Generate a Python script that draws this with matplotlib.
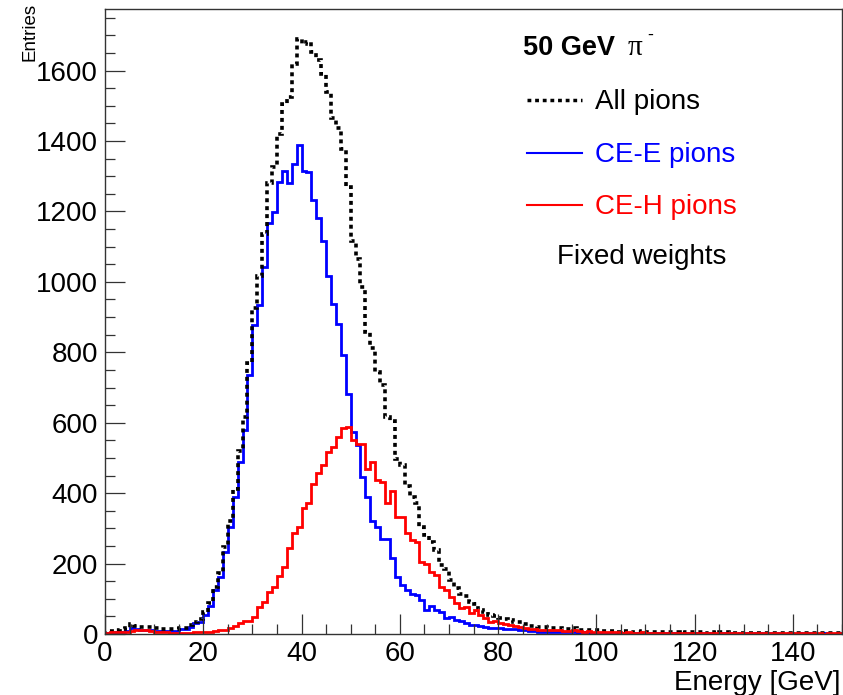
import numpy as np
import matplotlib
matplotlib.use("Agg")
import matplotlib.pyplot as plt
from matplotlib.lines import Line2D
from matplotlib.ticker import MultipleLocator

plt.rcParams['font.family'] = ['Liberation Sans', 'DejaVu Sans']

# 1 GeV bins from 0 to 150
bin_edges = np.arange(0, 151, 1)

ce_e_pions = [
    4, 4, 5, 7, 9, 16, 13, 11, 11, 11,
    9, 8, 8, 9, 9, 13, 13, 21, 30, 35,
    54, 80, 125, 162, 234, 305, 390, 489, 579, 735,
    877, 933, 1042, 1167, 1198, 1283, 1314, 1280, 1335, 1389,
    1314, 1311, 1233, 1181, 1115, 1018, 938, 881, 791, 683,
    574, 536, 446, 390, 320, 305, 271, 271, 215, 163,
    139, 125, 113, 111, 96, 68, 79, 68, 63, 45,
    49, 40, 38, 32, 26, 26, 22, 20, 18, 17,
    16, 15, 14, 13, 12, 12, 8, 8, 7, 7,
    6, 6, 6, 5, 5, 6, 4, 5, 4, 4,
    3, 4, 3, 3, 2, 4, 3, 2, 3, 3,
    2, 3, 2, 2, 3, 2, 2, 1, 2, 2,
    3, 2, 2, 2, 1, 3, 2, 2, 1, 2,
    2, 1, 2, 2, 1, 2, 1, 2, 1, 2,
    1, 2, 1, 2, 1, 1, 2, 1, 1, 2,
]

ce_h_pions = [
    4, 5, 6, 6, 7, 9, 10, 10, 10, 9,
    7, 6, 5, 4, 4, 4, 4, 4, 5, 6,
    7, 7, 8, 10, 12, 16, 23, 32, 37, 36,
    49, 78, 92, 120, 134, 165, 191, 243, 286, 305,
    357, 371, 427, 456, 481, 517, 531, 560, 586, 588,
    550, 541, 541, 470, 489, 437, 432, 371, 407, 333,
    333, 286, 267, 262, 205, 200, 177, 167, 134, 125,
    106, 87, 73, 78, 60, 68, 54, 45, 35, 38,
    30, 28, 25, 22, 20, 17, 14, 14, 12, 12,
    11, 10, 12, 9, 9, 10, 8, 7, 8, 6,
    7, 5, 6, 5, 5, 4, 5, 4, 4, 5,
    4, 3, 4, 4, 3, 4, 3, 3, 4, 3,
    3, 3, 2, 3, 3, 2, 3, 2, 3, 2,
    2, 3, 2, 2, 3, 2, 2, 2, 3, 2,
    2, 2, 3, 2, 2, 2, 1, 2, 2, 2,
]

all_pions = [
    8, 9, 11, 13, 16, 27, 23, 21, 21, 20,
    16, 14, 13, 13, 13, 17, 17, 25, 35, 42,
    62, 88, 134, 172, 246, 321, 413, 521, 616, 771,
    925, 1018, 1137, 1280, 1326, 1420, 1504, 1524, 1619, 1690,
    1676, 1680, 1652, 1630, 1591, 1539, 1465, 1437, 1378, 1270,
    1115, 1065, 985, 858, 812, 744, 706, 615, 604, 498,
    480, 420, 388, 372, 303, 282, 262, 238, 196, 185,
    153, 132, 113, 107, 90, 84, 68, 62, 55, 52,
    46, 43, 39, 35, 33, 29, 23, 22, 19, 19,
    17, 16, 18, 14, 14, 16, 12, 12, 12, 10,
    10, 9, 9, 8, 7, 8, 8, 6, 7, 8,
    6, 6, 6, 6, 6, 6, 5, 4, 6, 5,
    6, 5, 4, 5, 4, 5, 5, 4, 4, 4,
    4, 4, 4, 4, 4, 4, 3, 4, 4, 4,
    3, 4, 4, 4, 3, 3, 3, 3, 3, 4,
]

legend_labels = ["All pions", "CE-E pions", "CE-H pions"]

W, H = 843, 695
fig = plt.figure(figsize=(W / 100, H / 100), dpi=100)
ax = fig.add_axes([105 / W, 1 - 634 / H, (842 - 105) / W, (634 - 9) / H])

dots = (0, (1.1, 1.1))
ax.stairs(ce_e_pions, bin_edges, color='#0000ff', lw=2.0)
ax.stairs(all_pions, bin_edges, color='black', lw=2.6, linestyle=dots)
ax.stairs(ce_h_pions, bin_edges, color='#ff0000', lw=2.0)

ax.set_xlim(0, 150)
ax.set_ylim(0, 1775)
ax.xaxis.set_major_locator(MultipleLocator(20))
ax.xaxis.set_minor_locator(MultipleLocator(5))
ax.yaxis.set_major_locator(MultipleLocator(200))
ax.yaxis.set_minor_locator(MultipleLocator(50))
ax.tick_params(which='both', direction='in', top=False, right=False,
               labelsize=20, color='#333333')
ax.tick_params(which='major', length=14.5, width=0.9, pad=5)
ax.tick_params(which='minor', length=7.5, width=0.9)
for s in ax.spines.values():
    s.set_color('#333333')
    s.set_linewidth(1.0)

# axis titles, ROOT style
fig.text(30 / W, 1 - 3 / H, "Entries", rotation=90, ha='center', va='top', fontsize=13.5)
fig.text(841 / W, 1 - 690 / H, "Energy [GeV]", ha='right', va='baseline', fontsize=20)

# header
fig.text(523 / W, 1 - 55 / H, "50 GeV", fontweight='bold', fontsize=19.5, va='baseline')
fig.text(628 / W, 1 - 55 / H, "\u03c0", fontsize=21, va='baseline',
         family=['Liberation Serif', 'DejaVu Serif'])
fig.text(647 / W, 1 - 40 / H, "-", fontsize=13, va='baseline')

# legend
leg_y = [100, 153, 205]
leg_colors = ['black', '#0000ff', '#ff0000']
leg_styles = [dots, '-', '-']
leg_lw = [2.5, 1.5, 1.5]
for lab, y, c, ls, lw in zip(legend_labels, leg_y, leg_colors, leg_styles, leg_lw):
    fig.add_artist(Line2D([527 / W, 582 / W], [1 - y / H, 1 - y / H],
                          color=c, linestyle=ls, lw=lw))
    fig.text(595 / W, 1 - (y + 9) / H, lab, color=c, fontsize=20, va='baseline')
fig.text(557 / W, 1 - 264 / H, "Fixed weights", color='black', fontsize=20, va='baseline')

fig.savefig("out.png", dpi=100)
